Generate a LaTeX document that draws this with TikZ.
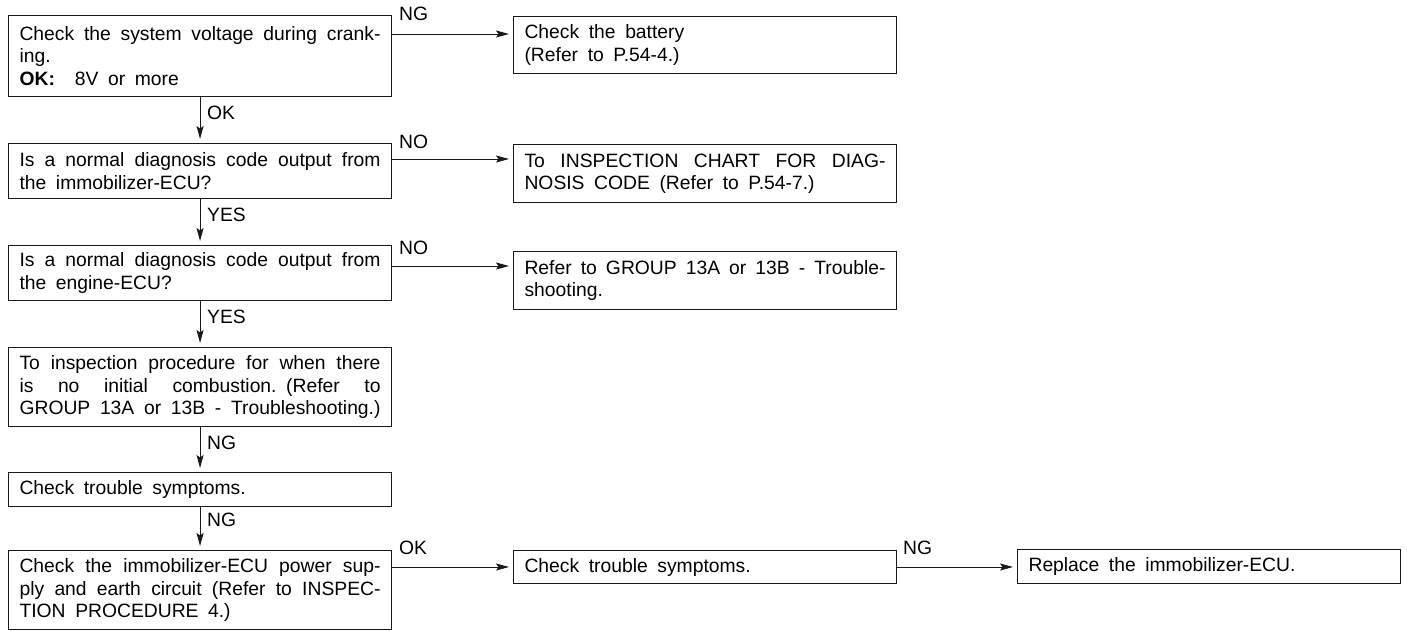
\documentclass[tikz,border=0pt]{standalone}
\usepackage{fontspec}
\setmainfont{Liberation Sans}
\usetikzlibrary{arrows.meta}
\newlength\bw
\setlength\bw{361pt}
\newcommand\wsp{\spaceskip=9.6pt plus 3pt minus 1pt\relax}
\newcommand\jl[1]{{\spaceskip=9.6pt plus 30pt minus 4pt\relax\makebox[\bw][s]{#1}}}
\tikzset{
  box/.style={draw=black!90, line width=1.1pt, anchor=north west, text width=\bw,
    inner xsep=11pt, inner ysep=2pt, align=left,
    font=\fontsize{19.3}{22.5}\selectfont, execute at begin node=\wsp},
  lbl/.style={inner sep=0pt, anchor=west, font=\fontsize{19.3}{22.5}\selectfont},
  arr/.style={draw=black!90, line width=1pt, shorten >=4pt,
    -{Stealth[length=13pt,width=7pt,inset=2.5pt]}}
}
\begin{document}
\begin{tikzpicture}[x=1pt,y=-1pt]
\fill[white] (0,0) rectangle (1407,630);
\useasboundingbox (0,0) rectangle (1407,630);

% left column
\node[box, minimum height=81pt] (b1) at (8,15)
  {\jl{Check the system voltage during crank-}\\ing.\\\textbf{OK:}\hspace{20pt}8V or more};
\node[box, minimum height=55pt] (b3) at (8,143)
  {\jl{Is a normal diagnosis code output from}\\the immobilizer-ECU?};
\node[box, minimum height=55pt] (b4) at (8,245)
  {\jl{Is a normal diagnosis code output from}\\the engine-ECU?};
\node[box, minimum height=79pt] (b5) at (8,347)
  {\jl{To inspection procedure for when there}\\\jl{is no initial combustion. (Refer to}\\\jl{GROUP 13A or 13B - Troubleshooting.)}};
\node[box, minimum height=34pt] (b6) at (8,472)
  {Check trouble symptoms.};
\node[box, minimum height=79pt] (b7) at (8,550)
  {\jl{Check the immobilizer-ECU power sup-}\\\jl{ply and earth circuit (Refer to INSPEC-}\\TION PROCEDURE 4.)};

% right column
\node[box, minimum height=57pt] (b2) at (513,16)
  {Check the battery\\(Refer to P.54-4.)};
\node[box, minimum height=58pt] (b3r) at (513,144)
  {\jl{To INSPECTION CHART FOR DIAG-}\\NOSIS CODE (Refer to P.54-7.)};
\node[box, minimum height=58pt] (b4r) at (513,251)
  {\jl{Refer to GROUP 13A or 13B - Trouble-}\\shooting.};
\node[box, minimum height=33pt] (b8) at (513,550)
  {Check trouble symptoms.};
\node[box, minimum height=34pt] (b9) at (1017,549)
  {Replace the immobilizer-ECU.};

% horizontal connector heights
\coordinate (h1) at (0,34);
\coordinate (h2) at (0,159);
\coordinate (h3) at (0,266);
\coordinate (h4) at (0,567);

% vertical connectors
\draw[arr] (b1.south) -- (b3.north);
\draw[arr] (b3.south) -- (b4.north);
\draw[arr] (b4.south) -- (b5.north);
\draw[arr] (b5.south) -- (b6.north);
\draw[arr] (b6.south) -- (b7.north);

% horizontal connectors
\draw[arr] (b1.east |- h1) -- (b2.west |- h1);
\draw[arr] (b3.east |- h2) -- (b3r.west |- h2);
\draw[arr] (b4.east |- h3) -- (b4r.west |- h3);
\draw[arr] (b7.east |- h4) -- (b8.west |- h4);
\draw[arr] (b8.east |- h4) -- (b9.west |- h4);

% labels
\node[lbl] (l1) at (399,14) {NG};
\node[lbl] (l2) at (399,142) {NO};
\node[lbl] (l3) at (399,248) {NO};
\node[lbl] (l4) at (399,548) {OK};
\node[lbl] (l5) at (903,548) {NG};
\node[lbl] (v1) at (207,113) {OK};
\node[lbl] (v2) at (207,215) {YES};
\node[lbl] (v3) at (207,317) {YES};
\node[lbl] (v4) at (207,443) {NG};
\node[lbl] (v5) at (207,520) {NG};
\end{tikzpicture}
\end{document}
